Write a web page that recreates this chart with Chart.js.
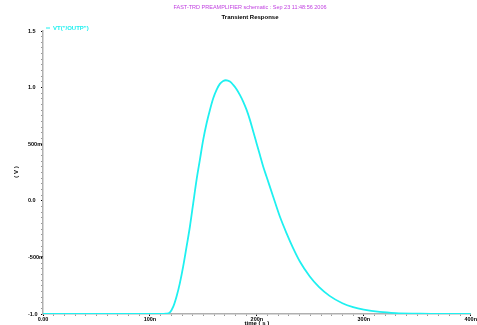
<!DOCTYPE html>
<html>
<head>
<meta charset="utf-8">
<script src="https://cdn.jsdelivr.net/npm/chart.js@4"></script>
<style>
html,body{margin:0;padding:0;background:#fff;}
#wrap{width:477px;height:325px;position:relative;}
</style>
</head>
<body>
<div id="wrap"><canvas id="c" width="477" height="325"></canvas></div>
<script>
// time in ns
const timeNs = [0, 100, 110, 115, 118.7, 121.8, 124.9, 128, 131.1, 134.3, 137.4, 140.5, 143.6, 146.7, 149.8, 153, 156.1, 159.2, 162.3, 165.4, 168.5, 171, 174.8, 177.9, 181, 184.1, 187.2, 190.4, 193.5, 196.6, 199.7, 202.8, 205.9, 209, 215.2, 221.5, 227.7, 233.9, 240.2, 249.5, 258, 268, 280, 290, 300, 315, 330, 350, 370, 400];
const voutValues = [-1, -1, -1, -0.997, -0.985, -0.935, -0.845, -0.727, -0.58, -0.403, -0.227, -0.02, 0.185, 0.362, 0.538, 0.685, 0.803, 0.906, 0.98, 1.033, 1.059, 1.065, 1.053, 1.024, 0.986, 0.936, 0.877, 0.803, 0.715, 0.612, 0.509, 0.406, 0.303, 0.215, 0.038, -0.139, -0.285, -0.418, -0.536, -0.668, -0.76, -0.84, -0.905, -0.94, -0.962, -0.982, -0.992, -0.997, -1, -1];
const xTickLabels = {0: '0.00', 100: '100n', 200: '200n', 300: '300n', 400: '400n'};
const yTickLabels = {'-1': '-1.0', '-0.5': '-500m', '0': '0.0', '0.5': '500m', '1': '1.0', '1.5': '1.5'};
const chartTitle = 'FAST-TRD PREAMPLIFIER schematic : Sep 23 11:48:56 2006';
const chartSubtitle = 'Transient Response';
const seriesName = 'VT("/OUTP")';
const xTitle = 'time ( s )';
const yTitle = '( V )';

const LINE = '#1ff0f0';
const FONT = '"Liberation Sans", Arial, sans-serif';

function yKey(v){ const r = Math.round(v*2)/2; return Math.abs(v - r) < 1e-6 ? String(r) : null; }
function xKey(v){ const r = Math.round(v/100)*100; return Math.abs(v - r) < 1e-6 ? r : null; }

const textPlugin = {
  id: 'texts',
  afterDraw(chart){
    const ctx = chart.ctx;
    const ca = chart.chartArea;
    ctx.save();
    ctx.textBaseline = 'middle';
    ctx.textAlign = 'center';
    ctx.fillStyle = '#c040e0';
    ctx.font = '5.5px ' + FONT;
    ctx.fillText(chartTitle, 250, 7);
    ctx.fillStyle = '#000';
    ctx.font = 'bold 6px ' + FONT;
    ctx.fillText(chartSubtitle, 250, 17);
    // legend
    ctx.strokeStyle = LINE;
    ctx.lineWidth = 1;
    ctx.beginPath(); ctx.moveTo(46, 28); ctx.lineTo(50, 28); ctx.stroke();
    ctx.fillStyle = LINE;
    ctx.textAlign = 'left';
    ctx.font = 'bold 6px ' + FONT;
    ctx.fillText(seriesName, 53, 28);
    // axis titles
    ctx.fillStyle = '#000';
    ctx.textAlign = 'center';
    ctx.fillText(xTitle, (ca.left + ca.right)/2, 323);
    ctx.translate(16, 172);
    ctx.rotate(-Math.PI/2);
    ctx.fillText(yTitle, 0, 0);
    ctx.restore();
  }
};

new Chart(document.getElementById('c'), {
  type: 'line',
  data: {
    datasets: [{
      label: seriesName,
      data: timeNs.map((t, i) => ({x: t, y: voutValues[i]})),
      borderColor: LINE,
      borderWidth: 1.8,
      pointRadius: 0,
      cubicInterpolationMode: 'monotone',
      fill: false
    }]
  },
  options: {
    responsive: false,
    animation: false,
    events: [],
    layout: { padding: { left: 28, right: 6, top: 31, bottom: 0 } },
    plugins: { legend: { display: false }, title: { display: false }, tooltip: { enabled: false } },
    scales: {
      x: {
        type: 'linear', min: 0, max: 400,
        afterFit(s){ s.height = 11; },
        border: { color: '#b0b0b0', width: 1.5 },
        grid: {
          drawOnChartArea: false, tickLength: 2,
          color: c => xKey(c.tick.value) !== null ? '#000' : '#999'
        },
        ticks: {
          stepSize: 10, autoSkip: false, maxRotation: 0, padding: 0,
          color: '#000', font: { family: FONT, size: 5.5, weight: 'bold' },
          callback: v => { const k = xKey(v); return k !== null ? xTickLabels[k] : ''; }
        }
      },
      y: {
        type: 'linear', min: -1, max: 1.5,
        afterFit(s){ s.width = 15; },
        border: { color: '#b0b0b0', width: 1.5 },
        grid: {
          drawOnChartArea: false, tickLength: 2,
          color: c => yKey(c.tick.value) !== null ? '#000' : '#999'
        },
        ticks: {
          stepSize: 0.05, autoSkip: false, padding: 0, crossAlign: 'far',
          color: '#000', font: { family: FONT, size: 5.5, weight: 'bold' },
          callback: v => { const k = yKey(v); return k !== null ? yTickLabels[k] : ''; }
        }
      }
    }
  },
  plugins: [textPlugin]
});
</script>
</body>
</html>
